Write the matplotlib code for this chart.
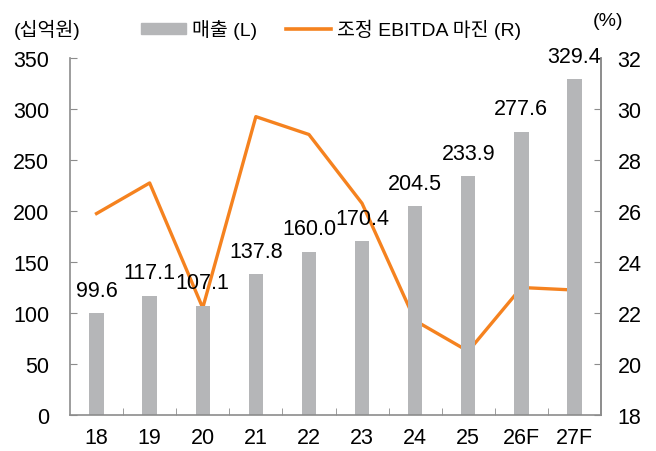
import numpy as np
import matplotlib.pyplot as plt
from matplotlib.patches import Patch
from matplotlib.lines import Line2D

plt.rcParams['font.family'] = ['Liberation Sans', 'Noto Sans CJK KR', 'DejaVu Sans']

years = ['18', '19', '20', '21', '22', '23', '24', '25', '26F', '27F']
sales = [99.6, 117.1, 107.1, 137.8, 160.0, 170.4, 204.5, 233.9, 277.6, 329.4]
margin = [25.9, 27.1, 22.2, 29.7, 29.0, 26.3, 21.7, 20.5, 23.0, 22.9]

bar_color = '#b5b6b8'
line_color = '#f5821f'
axis_color = '#8c8c8c'
fs = 15.5
fs_kr = 14

fig = plt.figure(figsize=(6.56, 4.52), dpi=100)
ax = fig.add_axes([70 / 656, 1 - 416 / 452, 531 / 656, 357 / 452])
ax2 = ax.twinx()

x = np.arange(len(years))
ax.bar(x, sales, width=0.27, color=bar_color, zorder=2)
for xi, v in zip(x, sales):
    ax.annotate(f'{v:.1f}', (xi, v), xytext=(0, 9), textcoords='offset points',
                ha='center', va='bottom', fontsize=fs, zorder=5,
                annotation_clip=False)

ax2.plot(x, margin, color=line_color, lw=2.4, zorder=3)

ax.set_xlim(-0.5, len(years) - 0.5)
ax.set_ylim(0, 350)
ax.set_yticks(range(0, 351, 50))
ax2.set_ylim(18, 32)
ax2.set_yticks(range(18, 33, 2))

ax.set_xticks(x)
ax.set_xticklabels(years)
ax.set_xticks(np.arange(0.5, len(years) - 1, 1), minor=True)
ax.tick_params(axis='x', which='major', length=0, pad=9, labelsize=fs)
ax.tick_params(axis='x', which='minor', direction='in', length=5, color=axis_color)
ax.tick_params(axis='y', direction='in', length=5, color=axis_color, labelsize=fs, pad=15)
ax2.tick_params(axis='y', direction='in', length=5, color=axis_color, labelsize=fs, pad=12)

for a in (ax, ax2):
    a.spines['top'].set_visible(False)
    for s in ('left', 'right', 'bottom'):
        a.spines[s].set_color(axis_color)
        a.spines[s].set_linewidth(1.2)
ax2.spines['left'].set_visible(False)
ax2.spines['bottom'].set_visible(False)

# labels and bars drawn above the line, like the original
ax.set_zorder(ax2.get_zorder() + 1)
ax.patch.set_visible(False)

fig.text(14 / 656, 1 - 30 / 452, '(십억원)', fontsize=fs_kr, ha='left', va='center')
fig.text(608 / 656, 1 - 22 / 452, '(%)', fontsize=fs_kr, ha='center', va='center')

handles = [Patch(color=bar_color), Line2D([0], [0], color=line_color, lw=2.6)]
fig.legend(handles, ['매출 (L)', '조정 EBITDA 마진 (R)'], loc='center',
           bbox_to_anchor=(331 / 656, 1 - 30 / 452), ncol=2, frameon=False,
           fontsize=fs_kr, handlelength=2.3, handleheight=0.5, handletextpad=0.3,
           columnspacing=1.5, borderpad=0)

fig.savefig('out.png', dpi=100)
